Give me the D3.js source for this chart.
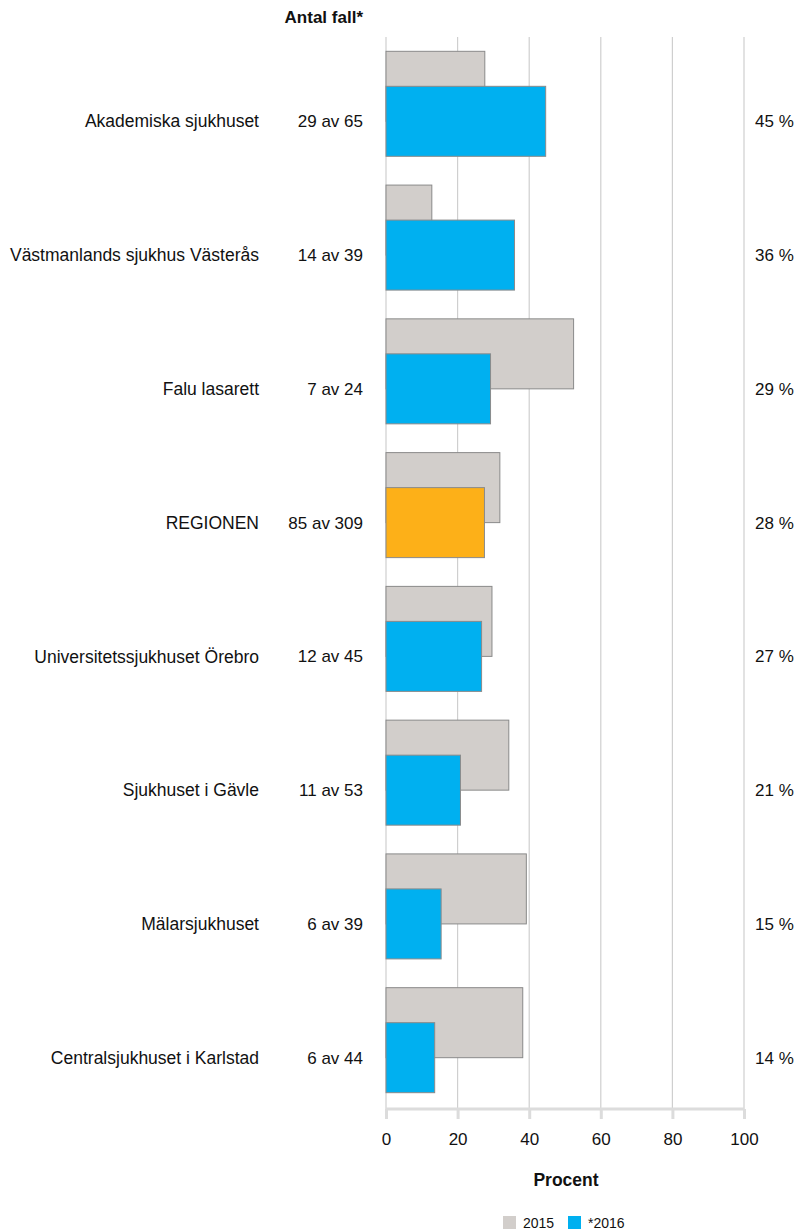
<!DOCTYPE html>
<html>
<head>
<meta charset="utf-8">
<script src="https://cdn.jsdelivr.net/npm/d3@7"></script>
<style>
body { margin: 0; background: #fff; }
text { font-family: "Liberation Sans", Arial, sans-serif; fill: #111; }
</style>
</head>
<body>
<svg></svg>
<script>
// data
var categories = ["Akademiska sjukhuset", "Västmanlands sjukhus Västerås", "Falu lasarett", "REGIONEN",
    "Universitetssjukhuset Örebro", "Sjukhuset i Gävle", "Mälarsjukhuset", "Centralsjukhuset i Karlstad"];
var counts = ["29 av 65", "14 av 39", "7 av 24", "85 av 309", "12 av 45", "11 av 53", "6 av 39", "6 av 44"];
var values2015 = [27.6, 12.8, 52.4, 31.8, 29.6, 34.3, 39.2, 38.2];
var values2016 = [44.6, 35.9, 29.2, 27.5, 26.7, 20.8, 15.4, 13.6];
var pctLabels = ["45 %", "36 %", "29 %", "28 %", "27 %", "21 %", "15 %", "14 %"];
var xTicks = [0, 20, 40, 60, 80, 100];
var seriesNames = ["2015", "*2016"];

var svgWidth = 799, svgHeight = 1232;
var fontSize = 17;

var svg = d3.select("svg")
    .attr("width", svgWidth)
    .attr("height", svgHeight);

var xScale = d3.scaleLinear()
    .domain([0, 100])
    .range([386, 744]);

var yScale = d3.scaleBand()
    .domain(categories)
    .range([37, 1107])
    .paddingInner(0.215)
    .paddingOuter(0.107);

var bw = yScale.bandwidth();
var barH = bw * 2 / 3;

// grid lines
svg.selectAll("line.grid")
    .data(xTicks)
    .enter()
    .append("line")
    .attr("class", "grid")
    .attr("x1", function(d) { return xScale(d); })
    .attr("x2", function(d) { return xScale(d); })
    .attr("y1", 37)
    .attr("y2", 1109)
    .attr("stroke", "#cfcfcf")
    .attr("stroke-width", 1.2);

// 2015 bars
svg.selectAll("rect.b2015")
    .data(values2015)
    .enter()
    .append("rect")
    .attr("class", "b2015")
    .attr("x", xScale(0))
    .attr("y", function(d, i) { return yScale(categories[i]); })
    .attr("width", function(d) { return xScale(d) - xScale(0); })
    .attr("height", barH)
    .attr("fill", "#d2cecb")
    .attr("stroke", "#8a8a8a")
    .attr("stroke-width", 1);

// 2016 bars
svg.selectAll("rect.b2016")
    .data(values2016)
    .enter()
    .append("rect")
    .attr("class", "b2016")
    .attr("x", xScale(0))
    .attr("y", function(d, i) { return yScale(categories[i]) + bw / 3; })
    .attr("width", function(d) { return xScale(d) - xScale(0); })
    .attr("height", barH)
    .attr("fill", function(d, i) { return categories[i] == "REGIONEN" ? "#fdb018" : "#00b0f0"; })
    .attr("stroke", "#8a8a8a")
    .attr("stroke-width", 1);

function rowY(i) {
    return yScale(categories[i]) + bw / 3 + barH / 2;
}

// category names
svg.selectAll("text.cat")
    .data(categories)
    .enter()
    .append("text")
    .attr("class", "cat")
    .attr("x", 259)
    .attr("y", function(d, i) { return rowY(i); })
    .attr("dy", "0.35em")
    .attr("text-anchor", "end")
    .style("font-size", "17.5px")
    .text(function(d) { return d; });

// counts
svg.selectAll("text.cnt")
    .data(counts)
    .enter()
    .append("text")
    .attr("class", "cnt")
    .attr("x", 363)
    .attr("y", function(d, i) { return rowY(i); })
    .attr("dy", "0.35em")
    .attr("text-anchor", "end")
    .style("font-size", fontSize + "px")
    .text(function(d) { return d; });

svg.append("text")
    .attr("x", 363)
    .attr("y", 23)
    .attr("text-anchor", "end")
    .style("font-size", fontSize + "px")
    .style("font-weight", "bold")
    .text("Antal fall*");

// percent labels on the right
svg.selectAll("text.pct")
    .data(pctLabels)
    .enter()
    .append("text")
    .attr("class", "pct")
    .attr("x", 755)
    .attr("y", function(d, i) { return rowY(i); })
    .attr("dy", "0.35em")
    .style("font-size", fontSize + "px")
    .text(function(d) { return d; });

// x axis
var xAxis = d3.axisBottom(xScale)
    .tickValues(xTicks)
    .tickSize(10)
    .tickPadding(14);

var axisG = svg.append("g")
    .attr("transform", "translate(0,1109)")
    .call(xAxis);

axisG.select(".domain")
    .attr("d", "M" + xScale(0) + ",0H" + xScale(100))
    .attr("stroke", "#dcdcdc")
    .attr("stroke-width", 3);
axisG.selectAll(".tick line")
    .attr("stroke", "#dcdcdc")
    .attr("stroke-width", 3);
axisG.selectAll(".tick text")
    .style("font-size", fontSize + "px")
    .style("font-family", "Liberation Sans, Arial, sans-serif")
    .attr("fill", "#111");

svg.append("text")
    .attr("x", xScale(50) + 1)
    .attr("y", 1186)
    .attr("text-anchor", "middle")
    .style("font-size", "17.5px")
    .style("font-weight", "bold")
    .text("Procent");

// legend
var legendColors = ["#d2cecb", "#00b0f0"];
var legendX = [503, 568];
var legend = svg.selectAll("g.leg")
    .data(seriesNames)
    .enter()
    .append("g")
    .attr("class", "leg")
    .attr("transform", function(d, i) { return "translate(" + legendX[i] + ",1216)"; });

legend.append("rect")
    .attr("width", 13)
    .attr("height", 13)
    .attr("fill", function(d, i) { return legendColors[i]; });

legend.append("text")
    .attr("x", 20)
    .attr("y", 7)
    .attr("dy", "0.35em")
    .style("font-size", "14px")
    .text(function(d) { return d; });
</script>
</body>
</html>
